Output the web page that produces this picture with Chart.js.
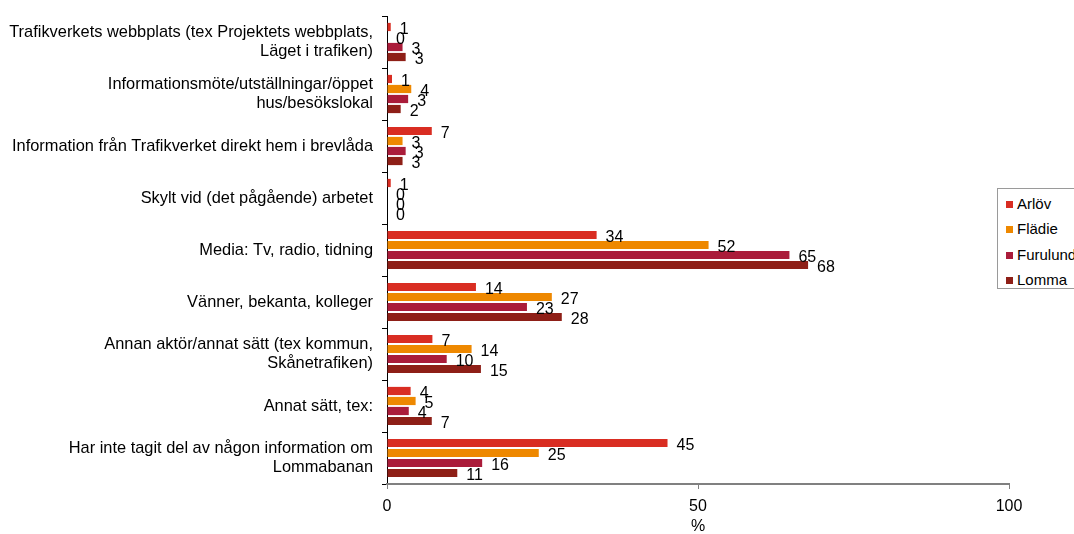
<!DOCTYPE html>
<html>
<head>
<meta charset="utf-8">
<script src="https://cdn.jsdelivr.net/npm/chart.js@4/dist/chart.umd.min.js"></script>
<style>
  body { margin: 0; background: #fff; overflow: hidden; }
  #wrap { position: relative; width: 1074px; height: 534px; }
  #legend {
    position: absolute; left: 997px; top: 188px; width: 80px; height: 101px;
    border: 1px solid #9a9a9a; box-sizing: border-box; background: #fff;
    font: 15px "Liberation Sans", Arial, sans-serif; color: #000; padding-top: 2px;
  }
  .item { height: 25.3px; line-height: 25px; white-space: nowrap; padding-left: 8px; }
  .sw { display: inline-block; width: 7px; height: 7px; margin-right: 4px; vertical-align: 1px; }
</style>
</head>
<body>
<div id="wrap">
  <canvas id="chart" width="1074" height="534"></canvas>
  <div id="legend"></div>
</div>
<script>
const CATEGORIES = [
    ['Trafikverkets webbplats (tex Projektets webbplats,', 'Läget i trafiken)'],
    ['Informationsmöte/utställningar/öppet', 'hus/besökslokal'],
    'Information från Trafikverket direkt hem i brevlåda',
    'Skylt vid (det pågående) arbetet',
    'Media: Tv, radio, tidning',
    'Vänner, bekanta, kolleger',
    ['Annan aktör/annat sätt (tex kommun,', 'Skånetrafiken)'],
    'Annat sätt, tex:',
    ['Har inte tagit del av någon information om', 'Lommabanan']
];
const SERIES_NAMES = ['Arlöv', 'Flädie', 'Furulund', 'Lomma'];
const SERIES_COLORS = ['#D92D22', '#EE8800', '#AA1C3A', '#8E1F17'];

const ARLOV    = [0.6, 0.8, 7.2, 0.6, 33.7, 14.3, 7.3, 3.8, 45.1];
const FLADIE   = [0,   3.9, 2.5, 0,   51.7, 26.5, 13.6, 4.6, 24.4];
const FURULUND = [2.5, 3.4, 3.0, 0,   64.7, 22.5, 9.6, 3.5, 15.3];
const LOMMA    = [3.0, 2.2, 2.5, 0,   67.7, 28.1, 15.1, 7.2, 11.3];
const LABELS_ARLOV    = [1, 1, 7, 1, 34, 14, 7, 4, 45];
const LABELS_FLADIE   = [0, 4, 3, 0, 52, 27, 14, 5, 25];
const LABELS_FURULUND = [3, 3, 3, 0, 65, 23, 10, 4, 16];
const LABELS_LOMMA    = [3, 2, 3, 0, 68, 28, 15, 7, 11];
const X_TICKS = [0, 50, 100];

const FONT = '"Liberation Sans", Arial, sans-serif';
const values = [ARLOV, FLADIE, FURULUND, LOMMA];
const shownLabels = [LABELS_ARLOV, LABELS_FLADIE, LABELS_FURULUND, LABELS_LOMMA];

// value labels next to each bar
const barLabels = {
    id: 'barLabels',
    afterDatasetsDraw(chart) {
        const ctx = chart.ctx;
        ctx.save();
        ctx.font = '16px ' + FONT;
        ctx.fillStyle = '#000';
        ctx.textAlign = 'left';
        ctx.textBaseline = 'middle';
        chart.data.datasets.forEach((ds, i) => {
            chart.getDatasetMeta(i).data.forEach((bar, j) => {
                ctx.fillText(String(shownLabels[i][j]), bar.x + 9, bar.y + 3);
            });
        });
        ctx.restore();
    }
};

new Chart(document.getElementById('chart').getContext('2d'), {
    type: 'bar',
    data: {
        labels: CATEGORIES,
        datasets: SERIES_NAMES.map((name, i) => ({
            label: name,
            data: values[i],
            backgroundColor: SERIES_COLORS[i],
            borderWidth: 0,
            categoryPercentage: 0.77,
            barPercentage: 0.82
        }))
    },
    options: {
        indexAxis: 'y',
        responsive: false,
        animation: false,
        layout: { padding: { top: 16, right: 65, left: 0, bottom: 0 } },
        plugins: { legend: { display: false }, tooltip: { enabled: false } },
        scales: {
            y: {
                grid: { drawOnChartArea: false, drawTicks: true, tickLength: 5, color: '#000' },
                border: { color: '#000', width: 1 },
                ticks: { color: '#000', font: { family: FONT, size: 16.4, lineHeight: 1.2 }, padding: 9, autoSkip: false },
                afterFit(scale) {
                    scale.width = 387;
                    scale.paddingTop = 0;
                    scale.paddingBottom = 0;
                }
            },
            x: {
                min: 0, max: 100,
                afterBuildTicks(scale) { scale.ticks = X_TICKS.map(v => ({ value: v })); },
                grid: { drawOnChartArea: false, drawTicks: true, tickLength: 5, color: '#808080' },
                border: { color: '#808080', width: 2 },
                ticks: { color: '#000', font: { family: FONT, size: 16 }, padding: 8 },
                title: { display: true, text: '%', color: '#000', font: { family: FONT, size: 16, lineHeight: 0.9 }, padding: { top: 2, bottom: 0 } },
                afterFit(scale) { scale.height = 50; }
            }
        }
    },
    plugins: [barLabels]
});

document.getElementById('legend').innerHTML = SERIES_NAMES.map((name, i) =>
    `<div class="item"><span class="sw" style="background:${SERIES_COLORS[i]}"></span>${name}</div>`
).join('');
</script>
</body>
</html>
